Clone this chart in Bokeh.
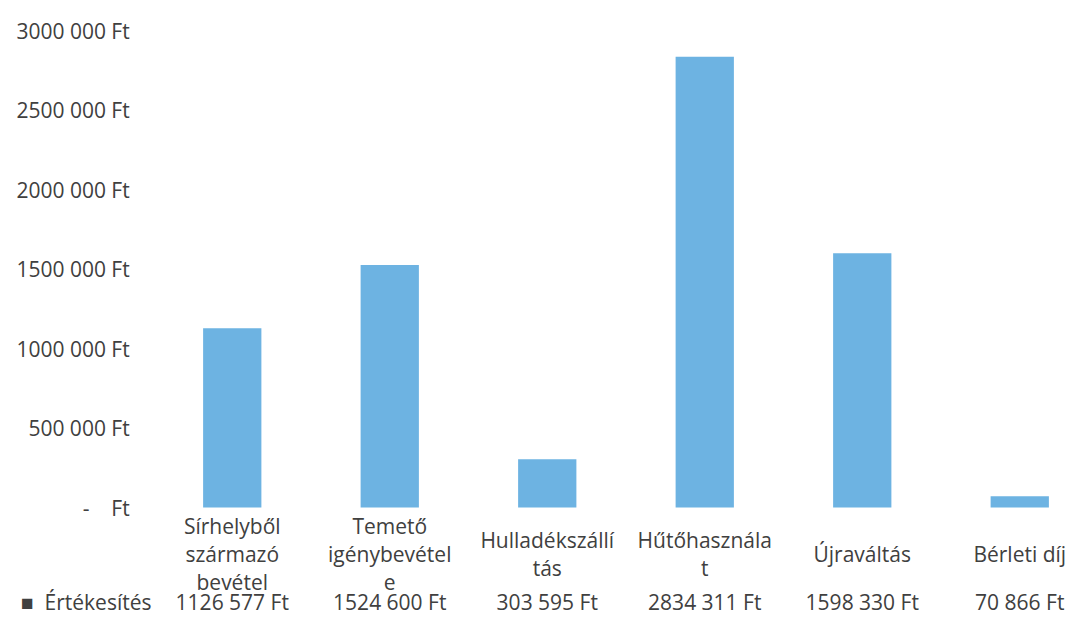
from bokeh.plotting import figure
from bokeh.models import Range1d, FixedTicker
from bokeh.core.properties import value
from bokeh.embed import file_html
from bokeh.resources import INLINE

# ---- data ----
categories = ["Sírhelyből származó bevétel", "Temető igénybevétele", "Hulladékszállítás",
              "Hűtőhasználat", "Újraváltás", "Bérleti díj"]
category_labels = ["Sírhelyből\nszármazó\nbevétel", "Temető\nigénybevétel\ne", "Hulladékszállí\ntás",
                   "Hűtőhasznála\nt", "Újraváltás", "Bérleti díj"]
values = [1126577, 1524600, 303595, 2834311, 1598330, 70866]
series_name = "Értékesítés"
y_ticks = [0, 500000, 1000000, 1500000, 2000000, 2500000, 3000000]
y_tick_labels = ["-    Ft", "500 000 Ft", "1000 000 Ft", "1500 000 Ft",
                 "2000 000 Ft", "2500 000 Ft", "3000 000 Ft"]

FONT = "Open Sans"
TXT = "#404040"
BAR = "#6DB3E2"
FS = "21px"
NB = "\u00a0"

W = 1067
H = 616
FRAME_LEFT = 153
FRAME_TOP = 30
FRAME_BOTTOM = 507      # pixel row of the zero line
CAT_ROW = 553           # pixel row of the category label block centres
VAL_ROW = 601           # pixel row of the data-table row
STEP = 157.5            # pixels per category


def fmt(v):
    return f"{v // 1000} {v % 1000:03d} Ft" if v >= 1000 else f"{v} Ft"


units_per_px = 3000000 / (FRAME_BOTTOM - FRAME_TOP)


def row_y(px):
    return -(px - FRAME_BOTTOM) * units_per_px


xs = list(range(len(categories)))
n = len(xs)

p = figure(width=W, height=H, output_backend="svg", toolbar_location=None,
           x_range=Range1d(-0.5, -0.5 + (W - FRAME_LEFT) / STEP),
           y_range=Range1d(row_y(H), 3000000),
           min_border_left=FRAME_LEFT, min_border_right=0, min_border_top=FRAME_TOP,
           min_border_bottom=0)
p.outline_line_color = None
p.grid.visible = False
p.background_fill_color = "white"
p.border_fill_color = "white"
p.xaxis.visible = False

# bars
p.vbar(x=xs, top=values, width=0.37, bottom=0, fill_color=BAR, line_color=None)

# category labels (wrapped like the original) and the data-table row
p.text(x=xs, y=[row_y(CAT_ROW)] * n, text=category_labels, text_align="center",
       text_baseline="middle", text_font=value(FONT), text_font_size=FS,
       text_color=TXT, text_line_height=1.0)
p.text(x=xs, y=[row_y(VAL_ROW)] * n, text=[fmt(v) for v in values], text_align="center",
       text_baseline="middle", text_font=value(FONT), text_font_size=FS,
       text_color=TXT)

# value axis (plus the series name of the data-table row)
legend_tick = int(round(row_y(VAL_ROW)))
pad = NB * 4
overrides = {t: l.replace(" ", NB) + pad for t, l in zip(y_ticks, y_tick_labels)}
overrides[legend_tick] = "\u25a0" + NB + NB + series_name

ya = p.yaxis[0]
ya.ticker = FixedTicker(ticks=y_ticks + [legend_tick])
ya.major_label_overrides = overrides
ya.axis_line_color = None
ya.major_tick_line_color = None
ya.minor_tick_line_color = None
ya.major_tick_out = 0
ya.major_tick_in = 0
ya.major_label_standoff = 2
ya.major_label_text_font = FONT
ya.major_label_text_font_size = FS
ya.major_label_text_color = TXT

open("out.html", "w").write(file_html(p, INLINE))
